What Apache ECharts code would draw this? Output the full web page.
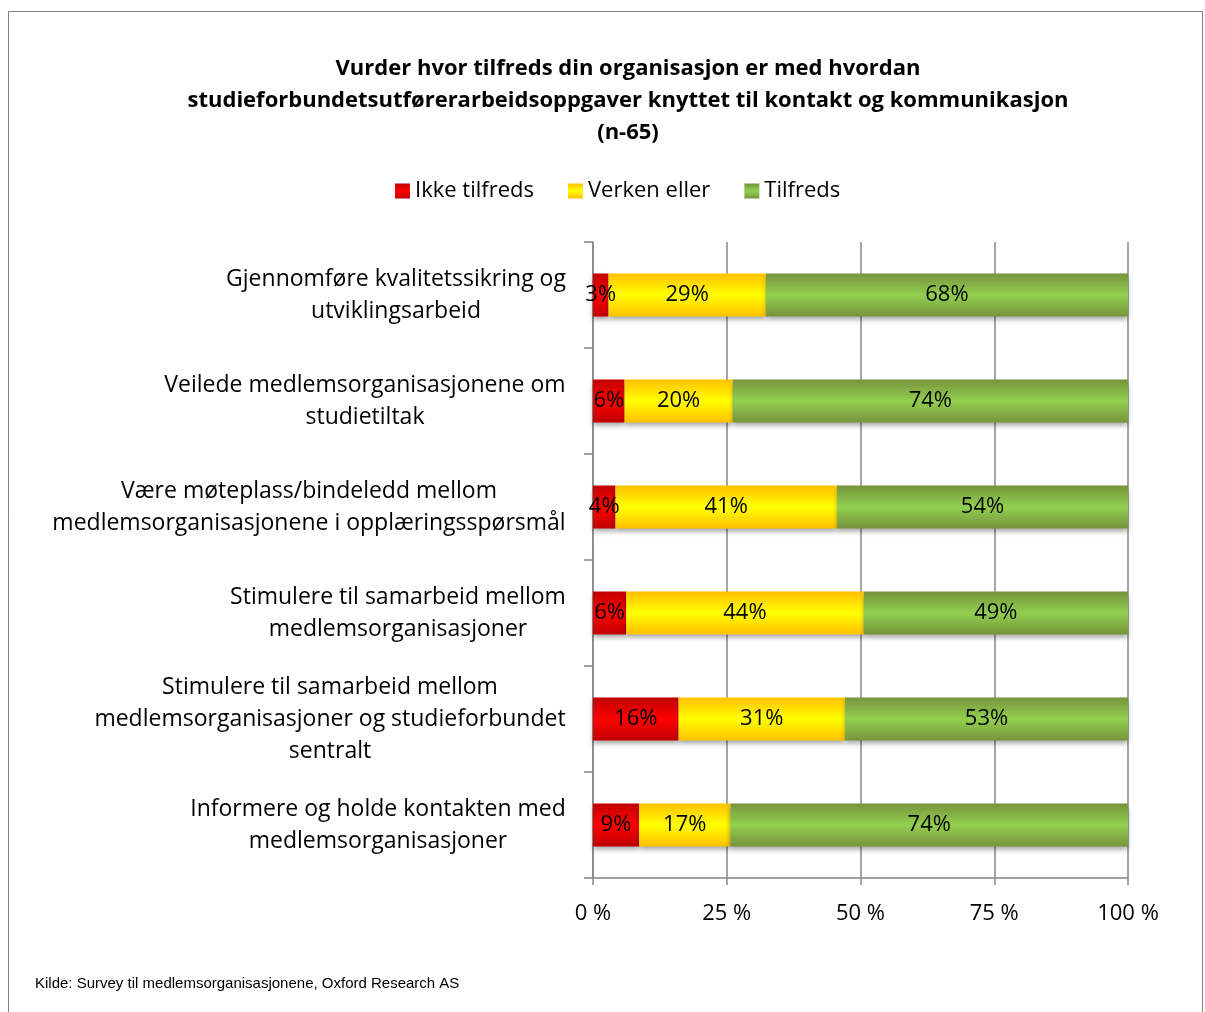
<!DOCTYPE html>
<html><head><meta charset="utf-8">
<script src="https://cdn.jsdelivr.net/npm/echarts@6/dist/echarts.min.js"></script>
<style>html,body{margin:0;padding:0;background:#fff}#c{width:1205px;height:1012px}</style>
</head><body><div id="c"></div>
<script>
const categories = [
  "Gjennomføre kvalitetssikring og\nutviklingsarbeid",
  "Veilede medlemsorganisasjonene om\nstudietiltak",
  "Være møteplass/bindeledd mellom\nmedlemsorganisasjonene i opplæringsspørsmål",
  "Stimulere til samarbeid mellom\nmedlemsorganisasjoner",
  "Stimulere til samarbeid mellom\nmedlemsorganisasjoner og studieforbundet\nsentralt",
  "Informere og holde kontakten med\nmedlemsorganisasjoner"
];
const seriesNames = ["Ikke tilfreds", "Verken eller", "Tilfreds"];
const ikkeTilfreds = [2.9, 5.9, 4.2, 6.2, 16.0, 8.6];
const verkenEller = [29.4, 20.2, 41.4, 44.4, 31.1, 17.1];
const tilfreds = [67.7, 73.9, 54.4, 49.4, 52.9, 74.3];
const xTicks = [0, 25, 50, 75, 100];

const FONT = "'Open Sans', Lato, sans-serif";
const LABEL_SIZE = 23;

// measure lines to build centered multi-line labels
const cv = document.createElement('canvas').getContext('2d');
cv.font = LABEL_SIZE + "px " + FONT;
const rich = {};
categories.forEach((c, i) => {
  const w = Math.max(...c.split("\n").map(l => cv.measureText(l).width));
  rich['w' + i] = { width: Math.ceil(w), align: 'center', fontSize: LABEL_SIZE, fontFamily: FONT, color: '#000', lineHeight: 32 };
});

function grad(edge, mid) {
  return new echarts.graphic.LinearGradient(0, 0, 0, 1, [
    { offset: 0, color: edge }, { offset: 0.5, color: mid }, { offset: 1, color: edge }
  ]);
}
const colors = [grad('#c00000', '#ff0000'), grad('#ffc000', '#ffff00'), grad('#77933c', '#92d050')];
const dataSets = [ikkeTilfreds, verkenEller, tilfreds];

const chart = echarts.init(document.getElementById('c'), null, { renderer: 'canvas' });
chart.setOption({
  animation: false,
  backgroundColor: '#fff',
  title: {
    text: "Vurder hvor tilfreds din organisasjon er med hvordan\nstudieforbundetsutførerarbeidsoppgaver knyttet til kontakt og kommunikasjon\n(n-65)",
    left: 623, top: 48, textAlign: 'center',
    textStyle: { fontFamily: FONT, fontSize: 22, fontWeight: 'bold', color: '#000', lineHeight: 32 }
  },
  legend: {
    data: seriesNames, top: 175, left: 390,
    itemWidth: 15, itemHeight: 15, itemGap: 34, icon: 'rect',
    textStyle: { fontFamily: FONT, fontSize: 22, color: '#000' }
  },
  grid: { left: 593, right: 77, top: 242, bottom: 134, containLabel: false },
  xAxis: {
    type: 'value', min: 0, max: 100, interval: 25,
    axisLine: { show: true, lineStyle: { color: '#868686', width: 1.5 } },
    axisTick: { show: true, length: 7, lineStyle: { color: '#868686', width: 1.5 } },
    splitLine: { show: true, lineStyle: { color: '#868686', width: 1.5 } },
    axisLabel: { formatter: v => xTicks.includes(v) ? v + ' %' : '', fontFamily: FONT, fontSize: 22, color: '#000', margin: 25 }
  },
  yAxis: {
    type: 'category', data: categories, inverse: true,
    axisLine: { show: true, lineStyle: { color: '#868686', width: 1.5 } },
    axisTick: { show: true, length: 9, lineStyle: { color: '#868686', width: 1.5 } },
    axisLabel: {
      margin: 27, interval: 0,
      formatter: (v, i) => v.split("\n").map(l => '{w' + i + '|' + l + '}').join("\n"),
      rich: rich
    }
  },
  series: seriesNames.map((n, k) => ({
    name: n, type: 'bar', stack: 'tot', barWidth: 43,
    data: dataSets[k],
    itemStyle: { color: colors[k], shadowColor: 'rgba(0,0,0,0.35)', shadowBlur: 5, shadowOffsetY: 3 },
    label: {
      show: true, position: 'inside', color: '#000', fontFamily: FONT, fontSize: 22,
      formatter: p => Math.round(p.value) + '%'
    }
  })),
  graphic: [
    { type: 'rect', shape: { x: 8.5, y: 11.5, width: 1194, height: 1020 }, style: { fill: null, stroke: '#7f7f7f', lineWidth: 1 }, silent: true },
    { type: 'text', left: 35, top: 976, style: { text: 'Kilde: Survey til medlemsorganisasjonene, Oxford Research AS', fontFamily: "'Liberation Sans Narrow', 'Liberation Sans', Arial, sans-serif", fontSize: 15, fill: '#000' } }
  ]
});
</script></body></html>
